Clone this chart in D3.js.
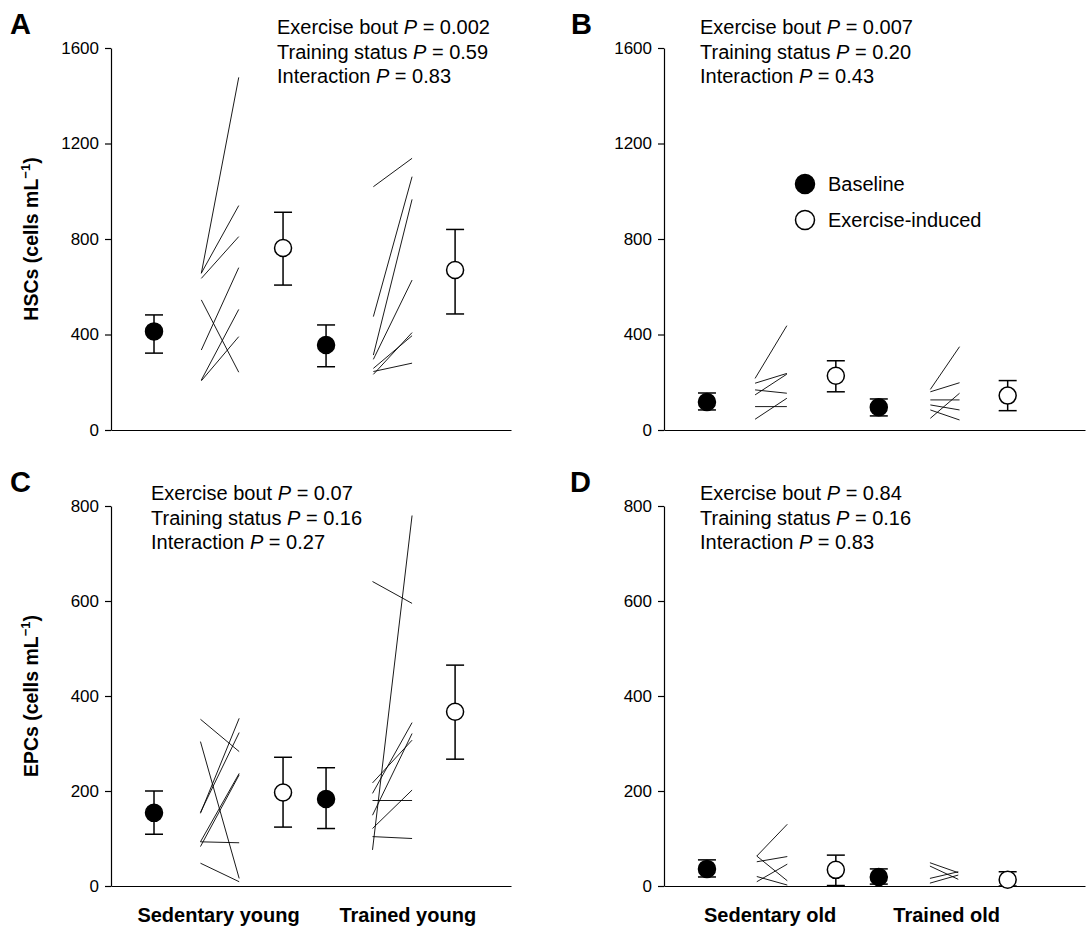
<!DOCTYPE html>
<html>
<head>
<meta charset="utf-8">
<script src="https://cdn.jsdelivr.net/npm/d3@7"></script>
<style>
  body { margin: 0; background: #fff; }
  svg { display: block; font-family: 'Liberation Sans', Arial, sans-serif; }
</style>
</head>
<body>
<div id="chart"></div>
<script>
const width = 1091;
const height = 929;

// group labels
const youngGroups = ['Sedentary young', 'Trained young'];
const oldGroups = ['Sedentary old', 'Trained old'];

// statistics text
const statNames = ['Exercise bout', 'Training status', 'Interaction'];
const hscYoungP = ['0.002', '0.59', '0.83'];
const hscOldP = ['0.007', '0.20', '0.43'];
const epcYoungP = ['0.07', '0.16', '0.27'];
const epcOldP = ['0.84', '0.16', '0.83'];

// group means with error bars: [mean, lower, upper]
// order: sedentary baseline, sedentary exercise, trained baseline, trained exercise
const hscYoung = [[413, 322, 482], [762, 607, 912], [356, 265, 440], [670, 486, 840]];
const hscOld = [[117, 84, 155], [227, 160, 290], [95, 59, 130], [144, 81, 207]];
const epcYoung = [[154, 109, 200], [197, 124, 271], [183, 121, 249], [367, 267, 465]];
const epcOld = [[36, 19, 55], [34, 1, 65], [19, 4, 36], [13, 0, 30]];

// individual responses: [baseline, exercise-induced]
const hscSedYoung = [[656, 1477], [657, 940], [635, 810], [335, 680], [545, 242], [209, 505], [206, 391]];
const hscTrnYoung = [[1019, 1138], [475, 1061], [314, 966], [296, 628], [233, 408], [258, 395], [245, 280]];
const hscSedOld = [[216, 437], [196, 237], [147, 234], [168, 154], [98, 98], [45, 133]];
const hscTrnOld = [[170, 349], [160, 198], [126, 126], [49, 154], [105, 84], [84, 42]];
const epcSedYoung = [[351, 283], [304, 16], [153, 353], [155, 323], [93, 237], [83, 234], [93, 91], [48, 9]];
const epcTrnYoung = [[76, 780], [641, 595], [195, 344], [149, 321], [121, 202], [180, 180], [104, 100], [217, 307]];
const epcSedOld = [[63, 130], [63, 11], [51, 62], [9, 46], [20, 2]];
const epcTrnOld = [[49, 28], [16, 30], [6, 23], [42, 14]];

// y ticks
const hscTicks = [0, 400, 800, 1200, 1600];
const epcTicks = [0, 200, 400, 600, 800];

// slot positions along the x axis (in slot units)
const meanSlots = [1, 4, 5, 8];
const meanKinds = ['baseline', 'exercise', 'baseline', 'exercise'];

const panels = [
  { letter: 'A', letterX: 10, left: 111, right: 511, top: 48, bottom: 430, xMax: 9.3, yMax: 1600, ticks: hscTicks,
    means: hscYoung, sed: hscSedYoung, trn: hscTrnYoung, pairSlots: [[2.1, 2.97], [6.1, 7.0]],
    p: hscYoungP, statX: 277, statY: 34, title: 'HSCs', groups: null, legend: false },
  { letter: 'B', letterX: 571, left: 664, right: 1085, top: 48, bottom: 430, xMax: 9.8, yMax: 1600, ticks: hscTicks,
    means: hscOld, sed: hscSedOld, trn: hscTrnOld, pairSlots: [[2.12, 2.86], [6.2, 6.88]],
    p: hscOldP, statX: 700, statY: 34, title: null, groups: null, legend: true },
  { letter: 'C', letterX: 10, left: 111, right: 511, top: 506, bottom: 886, xMax: 9.3, yMax: 800, ticks: epcTicks,
    means: epcYoung, sed: epcSedYoung, trn: epcTrnYoung, pairSlots: [[2.08, 2.98], [6.08, 7.0]],
    p: epcYoungP, statX: 151, statY: 500, title: 'EPCs', groups: youngGroups, groupSlots: [2.5, 6.9], legend: false },
  { letter: 'D', letterX: 570, left: 664, right: 1085, top: 506, bottom: 886, xMax: 9.8, yMax: 800, ticks: epcTicks,
    means: epcOld, sed: epcSedOld, trn: epcTrnOld, pairSlots: [[2.16, 2.87], [6.19, 6.85]],
    p: epcOldP, statX: 700, statY: 500, title: null, groups: oldGroups, groupSlots: [2.47, 6.58], legend: false }
];

const svg = d3
  .select('#chart')
  .append('svg')
  .attr('width', width)
  .attr('height', height);

panels.forEach(panel => {
  const g = svg.append('g');

  const x = d3.scaleLinear().domain([0, panel.xMax]).range([panel.left, panel.right]);
  const y = d3.scaleLinear().domain([0, panel.yMax]).range([panel.bottom, panel.top]);

  // Y axis
  const yAxis = g
    .append('g')
    .attr('transform', `translate(${panel.left},0)`)
    .call(
      d3.axisLeft(y)
        .tickValues(panel.ticks)
        .tickFormat(d3.format('d'))
        .tickSize(6)
        .tickSizeOuter(0)
        .tickPadding(6)
    );
  yAxis.selectAll('text').style('font-size', '17px').style('font-family', "'Liberation Sans', Arial, sans-serif");
  yAxis.selectAll('line, path').attr('stroke', '#000').attr('stroke-width', 1.2);

  // X axis (plain baseline)
  const xAxis = g
    .append('g')
    .attr('transform', `translate(0,${panel.bottom})`)
    .call(d3.axisBottom(x).tickValues([]).tickSizeOuter(0));
  xAxis.select('path').attr('stroke', '#000').attr('stroke-width', 1.2);

  // individual lines
  const pairs = [
    ...panel.sed.map(d => ({ v: d, s: panel.pairSlots[0] })),
    ...panel.trn.map(d => ({ v: d, s: panel.pairSlots[1] }))
  ];
  g.selectAll('line.subject')
    .data(pairs)
    .enter()
    .append('line')
    .attr('class', 'subject')
    .attr('x1', d => x(d.s[0]))
    .attr('x2', d => x(d.s[1]))
    .attr('y1', d => y(d.v[0]))
    .attr('y2', d => y(d.v[1]))
    .attr('stroke', '#000')
    .attr('stroke-width', 0.9);

  // error bars
  const means = panel.means.map((d, i) => ({ mean: d[0], lo: d[1], hi: d[2], slot: meanSlots[i], kind: meanKinds[i] }));
  const bars = g.selectAll('g.bar').data(means).enter().append('g').attr('class', 'bar');
  bars.append('line')
    .attr('x1', d => x(d.slot)).attr('x2', d => x(d.slot))
    .attr('y1', d => y(d.lo)).attr('y2', d => y(d.hi))
    .attr('stroke', '#000').attr('stroke-width', 1.5);
  bars.append('line')
    .attr('x1', d => x(d.slot) - 9).attr('x2', d => x(d.slot) + 9)
    .attr('y1', d => y(d.hi)).attr('y2', d => y(d.hi))
    .attr('stroke', '#000').attr('stroke-width', 1.5);
  bars.append('line')
    .attr('x1', d => x(d.slot) - 9).attr('x2', d => x(d.slot) + 9)
    .attr('y1', d => y(d.lo)).attr('y2', d => y(d.lo))
    .attr('stroke', '#000').attr('stroke-width', 1.5);
  bars.append('circle')
    .attr('cx', d => x(d.slot))
    .attr('cy', d => y(d.mean))
    .attr('r', 8.5)
    .attr('fill', d => (d.kind === 'baseline' ? '#000' : '#fff'))
    .attr('stroke', '#000')
    .attr('stroke-width', 1.5);

  // panel letter
  g.append('text')
    .attr('x', panel.letterX)
    .attr('y', panel.top - 14)
    .style('font-size', '29px')
    .style('font-weight', 'bold')
    .text(panel.letter);

  // stats text
  statNames.forEach((name, i) => {
    const t = g.append('text')
      .attr('x', panel.statX)
      .attr('y', panel.statY + i * 24.5)
      .style('font-size', '20px');
    t.append('tspan').text(`${name} `);
    t.append('tspan').style('font-style', 'italic').text('P');
    t.append('tspan').text(` = ${panel.p[i]}`);
  });

  // y axis title
  if (panel.title) {
    const t = g.append('text')
      .attr('transform', `translate(38,${(panel.top + panel.bottom) / 2}) rotate(-90)`)
      .attr('text-anchor', 'middle')
      .style('font-size', '19.5px')
      .style('font-weight', 'bold');
    t.append('tspan').text(`${panel.title} (cells mL`);
    t.append('tspan').attr('dy', -8).style('font-size', '13px').text('\u22121');
    t.append('tspan').attr('dy', 8).text(')');
  }

  // group labels
  if (panel.groups) {
    g.selectAll('text.group')
      .data(panel.groups)
      .enter()
      .append('text')
      .attr('class', 'group')
      .attr('x', (d, i) => x(panel.groupSlots[i]))
      .attr('y', 922)
      .attr('text-anchor', 'middle')
      .style('font-size', '20px')
      .style('font-weight', 'bold')
      .text(d => d);
  }

  // legend
  if (panel.legend) {
    const items = ['Baseline', 'Exercise-induced'];
    const lg = g.append('g').attr('transform', 'translate(805,184)');
    items.forEach((name, i) => {
      lg.append('circle')
        .attr('cx', 0)
        .attr('cy', i * 36)
        .attr('r', 9.5)
        .attr('fill', i === 0 ? '#000' : '#fff')
        .attr('stroke', '#000')
        .attr('stroke-width', 1.5);
      lg.append('text')
        .attr('x', 23)
        .attr('y', i * 36 + 7)
        .style('font-size', '20px')
        .text(name);
    });
  }
});
</script>
</body>
</html>
